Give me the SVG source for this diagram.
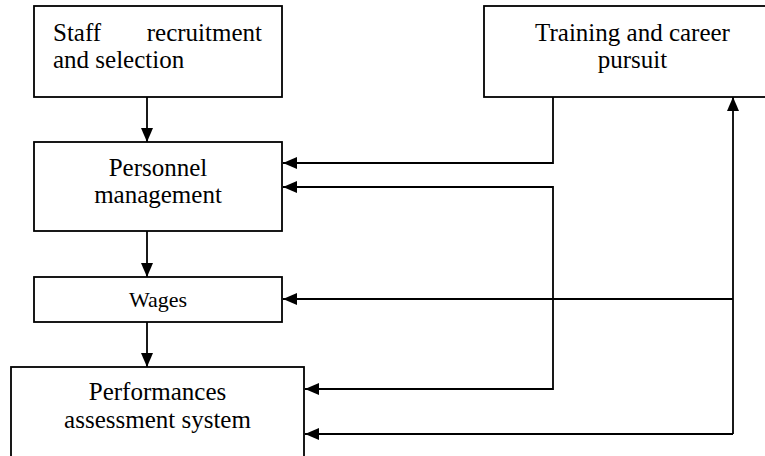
<svg xmlns="http://www.w3.org/2000/svg" width="765" height="456" viewBox="0 0 765 456">
  <style>
    .box { fill: #ffffff; stroke: #000000; stroke-width: 1.8; }
    .t { font-family: "Liberation Serif", "Times New Roman", serif; font-size: 25px; fill: #000000; }
    .c { text-anchor: middle; }
    .line { fill: none; stroke: #000000; stroke-width: 1.8; }
  </style>
  <defs>
    <marker id="arrow" markerUnits="userSpaceOnUse" markerWidth="14" markerHeight="12" refX="14" refY="6" orient="auto">
      <path d="M0,0 L14,6 L0,12 z" fill="#000000"/>
    </marker>
  </defs>
  <rect width="765" height="456" fill="#ffffff"/>

  <g id="staff">
    <rect class="box" x="34" y="6" width="248" height="91"/>
    <text class="t" x="53" y="41">Staff</text>
    <text class="t" x="262" y="41" text-anchor="end">recruitment</text>
    <text class="t" x="53" y="68">and selection</text>
  </g>

  <g id="training">
    <rect class="box" x="484" y="6" width="297" height="91"/>
    <text class="t c" x="632.5" y="41">Training and career</text>
    <text class="t c" x="632.5" y="68">pursuit</text>
  </g>

  <g id="personnel">
    <rect class="box" x="34" y="142" width="248" height="89"/>
    <text class="t c" x="158" y="176">Personnel</text>
    <text class="t c" x="158" y="203">management</text>
  </g>

  <g id="wages">
    <rect class="box" x="34" y="277" width="248" height="45"/>
    <text class="t c" x="158" y="307" style="font-size:22px">Wages</text>
  </g>

  <g id="performances">
    <rect class="box" x="11" y="367" width="293" height="100"/>
    <text class="t c" x="157.5" y="400">Performances</text>
    <text class="t c" x="157.5" y="428">assessment system</text>
  </g>

  <g id="connectors">
    <path class="line" d="M147,97 V142" marker-end="url(#arrow)"/>
    <path class="line" d="M147,231 V277" marker-end="url(#arrow)"/>
    <path class="line" d="M147,322 V367" marker-end="url(#arrow)"/>
    <path class="line" d="M553,97 V163 H283" marker-end="url(#arrow)"/>
    <path class="line" d="M553,280 V187 H283" marker-end="url(#arrow)"/>
    <path class="line" d="M553,280 V389 H305" marker-end="url(#arrow)"/>
    <path class="line" d="M733,434 V97" marker-end="url(#arrow)"/>
    <path class="line" d="M733,299 H283" marker-end="url(#arrow)"/>
    <path class="line" d="M733,434 H305" marker-end="url(#arrow)"/>
  </g>
</svg>
